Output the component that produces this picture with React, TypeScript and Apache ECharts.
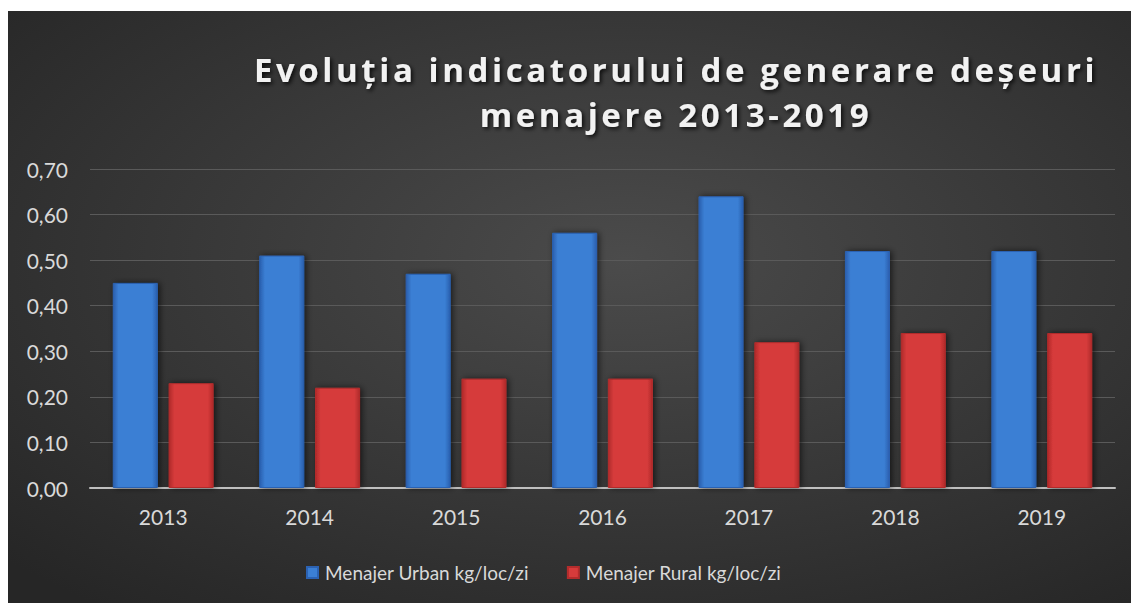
import React, { useEffect, useRef } from "react";
import * as echarts from "echarts";

const years = ["2013", "2014", "2015", "2016", "2017", "2018", "2019"];
const urbanValues = [0.45, 0.51, 0.47, 0.56, 0.64, 0.52, 0.52];
const ruralValues = [0.23, 0.22, 0.24, 0.24, 0.32, 0.34, 0.34];
const seriesNames = ["Menajer Urban kg/loc/zi", "Menajer Rural kg/loc/zi"];
const titleText = "Evoluția indicatorului de generare deșeuri\nmenajere 2013-2019";

const blueGrad = {
  type: "linear", x: 0, y: 0, x2: 1, y2: 0,
  colorStops: [
    { offset: 0, color: "#2a5fae" },
    { offset: 0.12, color: "#3b7fd4" },
    { offset: 0.88, color: "#3b7fd4" },
    { offset: 1, color: "#2a5fae" },
  ],
};
const redGrad = {
  type: "linear", x: 0, y: 0, x2: 1, y2: 0,
  colorStops: [
    { offset: 0, color: "#b02a2a" },
    { offset: 0.12, color: "#d63b3b" },
    { offset: 0.88, color: "#d63b3b" },
    { offset: 1, color: "#b02a2a" },
  ],
};

export default function App() {
  const ref = useRef<HTMLDivElement>(null);
  useEffect(() => {
    if (!ref.current) return;
    const el = ref.current;
    const chart = echarts.init(el, null, { renderer: "svg" });
    const spaceTitle = () => {
      el.querySelectorAll("text").forEach((t) => {
        const s = t.textContent || "";
        if (s.startsWith("Evolu") || s.startsWith("menajere")) {
          t.setAttribute("letter-spacing", "3.6px");
        }
      });
    };
    chart.on("finished", spaceTitle);
    chart.setOption({
      animation: false,
      backgroundColor: {
        type: "radial", x: 0.55, y: 0.42, r: 0.75,
        colorStops: [
          { offset: 0, color: "#4b4b4b" },
          { offset: 1, color: "#262626" },
        ],
      },
      title: {
        text: titleText,
        left: 663,
        top: 31,
        textAlign: "center",
        textStyle: {
          fontFamily: "Open Sans",
          fontWeight: "bold",
          fontSize: 33,
          lineHeight: 45,
          color: "#f2f2f2",
          textShadowColor: "rgba(0,0,0,0.8)",
          textShadowBlur: 4,
          textShadowOffsetX: 2,
          textShadowOffsetY: 2,
        },
      },
      legend: {
        left: 293,
        top: 547,
        itemWidth: 11,
        itemHeight: 11,
        itemGap: 38,
        icon: "rect",
        data: seriesNames,
        textStyle: { fontFamily: "Lato", fontSize: 19, color: "#d9d9d9", padding: [0, 0, 0, 2] },
      },
      grid: { left: 82, right: 16, top: 158, bottom: 115 },
      xAxis: {
        type: "category",
        data: years,
        axisLine: { lineStyle: { color: "#bfbfbf", width: 2 } },
        axisTick: { show: false },
        axisLabel: { fontFamily: "Lato", fontSize: 21, color: "#d9d9d9", margin: 18 },
      },
      yAxis: {
        type: "value",
        min: 0,
        max: 0.7,
        interval: 0.1,
        axisLine: { show: false },
        axisTick: { show: false },
        splitLine: { lineStyle: { color: "#5a5a5a", width: 1 } },
        axisLabel: {
          fontFamily: "Lato",
          fontSize: 21,
          color: "#d9d9d9",
          margin: 22,
          formatter: (v: number) => v.toFixed(2).replace(".", ","),
        },
      },
      series: [
        {
          name: seriesNames[0],
          type: "bar",
          data: urbanValues,
          barWidth: 45,
          barGap: "24%",
          itemStyle: {
            color: blueGrad,
            borderColor: "#2b62b3",
            borderWidth: 1,
            shadowColor: "rgba(0,0,0,0.6)",
            shadowBlur: 6,
            shadowOffsetX: 2,
          },
        },
        {
          name: seriesNames[1],
          type: "bar",
          data: ruralValues,
          barWidth: 45,
          barGap: "24%",
          itemStyle: {
            color: redGrad,
            borderColor: "#b32c2c",
            borderWidth: 1,
            shadowColor: "rgba(0,0,0,0.6)",
            shadowBlur: 6,
            shadowOffsetX: 2,
          },
        },
      ],
    });
    spaceTitle();
    const timer = setTimeout(spaceTitle, 50);
    return () => {
      clearTimeout(timer);
      chart.dispose();
    };
  }, []);
  return (
    <div
      ref={ref}
      style={{ position: "absolute", left: 8, top: 11, width: 1123, height: 592 }}
    />
  );
}
